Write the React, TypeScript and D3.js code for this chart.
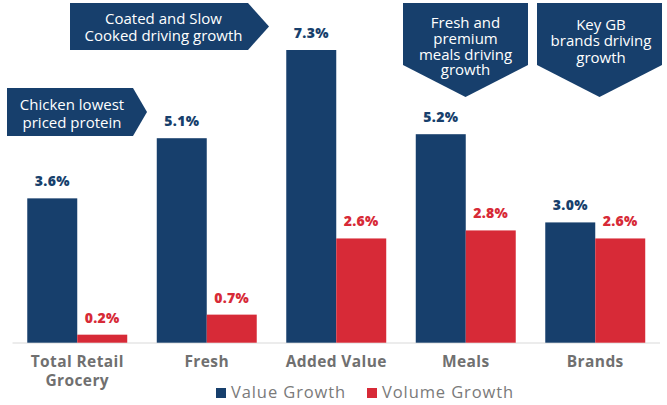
import React from "react";
import * as d3 from "d3";

const categories = ["Total Retail Grocery", "Fresh", "Added Value", "Meals", "Brands"];
const categoryLines = [["Total Retail", "Grocery"], ["Fresh"], ["Added Value"], ["Meals"], ["Brands"]];
const valueGrowth = [3.6, 5.1, 7.3, 5.2, 3.0];
const volumeGrowth = [0.2, 0.7, 2.6, 2.8, 2.6];
const seriesNames = ["Value Growth", "Volume Growth"];

const NAVY = "#173f6c";
const RED = "#d72a37";
const GRAY = "#707070";
const FONT = "'Open Sans', 'DejaVu Sans', sans-serif";

export default function App() {
  const W = 667, H = 405;
  const x = d3.scaleBand<string>().domain(categories).range([12.5, 660]).paddingInner(0.228).paddingOuter(0.114);
  const xs = d3.scaleBand<string>().domain(seriesNames).range([0, x.bandwidth()]);
  const y = d3.scaleLinear().domain([0, 7.3]).range([342.7, 50]);
  const fmt = (v: number) => v.toFixed(1) + "%";

  const rightArrow = (x0: number, y0: number, x1: number, y1: number, tip: number) =>
    `M${x0},${y0}L${x1},${y0}L${tip},${(y0 + y1) / 2}L${x1},${y1}L${x0},${y1}Z`;
  const downArrow = (x0: number, y0: number, x1: number, y1: number, tip: number) =>
    `M${x0},${y0}L${x1},${y0}L${x1},${y1}L${(x0 + x1) / 2},${tip}L${x0},${y1}Z`;

  const multi = (lines: string[], cx: number, y0: number, dy: number, props: any) => (
    <text x={cx} y={y0} textAnchor="middle" {...props}>
      {lines.map((l, j) => (
        <tspan key={j} x={cx} dy={j === 0 ? 0 : dy}>{l}</tspan>
      ))}
    </text>
  );

  return (
    <svg width={W} height={H} style={{ position: "absolute", left: 0, top: 0, background: "#fff" }} fontFamily={FONT}>
      <rect width={W} height={H} fill="#fff" />
      <line x1={12.5} x2={660} y1={343} y2={343} stroke="#d9d9d9" strokeWidth={1.2} />
      {categories.map((c, i) => {
        const bx = x(c)!;
        const v = valueGrowth[i], vo = volumeGrowth[i];
        const xv = bx + xs(seriesNames[0])!;
        const xo = bx + xs(seriesNames[1])!;
        return (
          <g key={c}>
            <rect x={xv} y={y(v)} width={xs.bandwidth()} height={y(0) - y(v)} fill={NAVY} />
            <rect x={xo} y={y(vo)} width={xs.bandwidth()} height={y(0) - y(vo)} fill={RED} />
            <text x={xv + xs.bandwidth() / 2} y={y(v) - 12} textAnchor="middle" fontWeight={800} fontSize={14} letterSpacing={0.3} fill={NAVY}>{fmt(v)}</text>
            <text x={xo + xs.bandwidth() / 2} y={y(vo) - 12} textAnchor="middle" fontWeight={800} fontSize={14} letterSpacing={0.3} fill={RED}>{fmt(vo)}</text>
            {multi(categoryLines[i], bx + x.bandwidth() / 2, 367, 18.7, { fontWeight: 700, fontSize: 15.5, letterSpacing: 0.4, fill: GRAY })}
          </g>
        );
      })}
      <rect x={216} y={388} width={10} height={10} fill={NAVY} />
      <text x={231} y={398} fontSize={16.5} letterSpacing={0.9} fill="#7a7a7a">{seriesNames[0]}</text>
      <rect x={367} y={388} width={10} height={10} fill={RED} />
      <text x={382} y={398} fontSize={16.5} letterSpacing={0.9} fill="#7a7a7a">{seriesNames[1]}</text>

      <path d={rightArrow(7, 88, 133, 136, 147)} fill={NAVY} />
      {multi(["Chicken lowest", "priced protein"], 72, 110, 17.5, { fontSize: 15, fill: "#fff" })}

      <path d={rightArrow(70, 3, 248, 50, 269)} fill={NAVY} />
      {multi(["Coated and Slow", "Cooked driving growth"], 163.5, 24, 17, { fontSize: 15, fill: "#fff" })}

      <path d={downArrow(403, 3, 528, 65, 97)} fill={NAVY} />
      {multi(["Fresh and", "premium", "meals driving", "growth"], 465.5, 28, 15.8, { fontSize: 15, fill: "#fff" })}

      <path d={downArrow(537, 3, 662, 65, 97)} fill={NAVY} />
      {multi(["Key GB", "brands driving", "growth"], 601, 29.5, 16.8, { fontSize: 15, fill: "#fff" })}
    </svg>
  );
}
